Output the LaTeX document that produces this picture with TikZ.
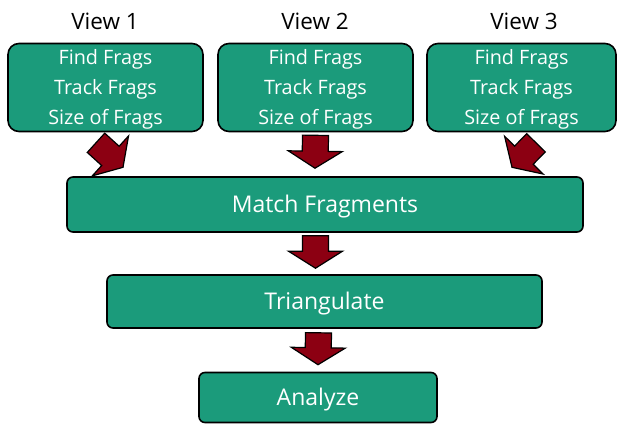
\documentclass[tikz,border=0pt]{standalone}
\usepackage{fontspec}
\setmainfont{Open Sans}
\usetikzlibrary{calc}
\definecolor{boxfill}{RGB}{27,155,123}
\definecolor{arrowred}{RGB}{140,0,18}
\tikzset{
  viewlabel/.style={font=\fontsize{22.5}{26}\selectfont, text=black, inner sep=0pt,
    text height=16.1pt, text depth=0pt},
  % three lines 30pt apart: height spans from the first cap top to the last baseline
  viewbox/.style={draw=black, line width=1.6pt, fill=boxfill, rounded corners=11pt,
    minimum width=195pt, minimum height=88pt, inner sep=0pt, align=center,
    text=white, font=\fontsize{19.8}{30}\selectfont, text height=74.1pt, text depth=0pt},
  stagebox/.style={draw=black, line width=1.6pt, fill=boxfill, rounded corners=6pt,
    inner sep=0pt, text=white, font=\fontsize{23}{27}\selectfont,
    text height=16.4pt, text depth=0pt},
  barrow/.style={draw=black, line width=1.2pt, fill=arrowred, line join=miter}
}
% block arrow from a back centre (#1) to a tip (#2)
\newcommand\blockarrow[2]{%
  \coordinate (hb) at ($(#2)!17pt!(#1)$);
  \draw[barrow]
    ($(#1)!13pt!90:(#2)$) -- ($(hb)!13pt!90:(#2)$) -- ($(hb)!27pt!90:(#2)$)
    -- (#2)
    -- ($(hb)!27pt!-90:(#2)$) -- ($(hb)!13pt!-90:(#2)$) -- ($(#1)!13pt!-90:(#2)$)
    -- cycle;
}
\begin{document}
\begin{tikzpicture}[x=1pt,y=-1pt]
  \useasboundingbox (0,0) rectangle (618,424);

  % view titles
  \node[viewlabel] (t1) at (105,21.3) {View 1};
  \node[viewlabel] (t2) at (315,21.3) {View 2};
  \node[viewlabel] (t3) at (524,21.3) {View 3};

  % per-view processing boxes
  \node[viewbox] (v1) at (105.5,87.5) {Find Frags\\Track Frags\\Size of Frags};
  \node[viewbox] (v2) at (315.5,87.5) {Find Frags\\Track Frags\\Size of Frags};
  \node[viewbox, minimum width=189pt] (v3) at (521.5,87.5) {Find Frags\\Track Frags\\Size of Frags};

  % combined stages
  \node[stagebox, minimum width=516pt, minimum height=55pt] (match) at (325,204.5) {Match Fragments};
  \node[stagebox, minimum width=435pt, minimum height=53pt] (tri) at (324.5,301.5) {Triangulate};
  \node[stagebox, minimum width=238pt, minimum height=50pt] (ana) at (318,397.5) {Analyze};

  % arrow end points
  \coordinate (a1b) at ($(v1.south)+(-9.5,10.5)$);
  \coordinate (a1t) at ($(v1.south)+(17.5,35)$);
  \coordinate (a2b) at ($(v2.south)+(0,3)$);
  \coordinate (a2t) at ($(match.north)+(-10,-8)$);
  \coordinate (a3b) at ($(v3.south)+(14.5,10.5)$);
  \coordinate (a3t) at ($(v3.south)+(-9.5,35)$);
  \coordinate (a4b) at ($(match.south)+(-9.5,3)$);
  \coordinate (a4t) at ($(tri.north)+(-9,-6)$);
  \coordinate (a5b) at ($(tri.south)+(-6,4)$);
  \coordinate (a5t) at ($(ana.north)+(0,-7)$);

  \blockarrow{a1b}{a1t}
  \blockarrow{a2b}{a2t}
  \blockarrow{a3b}{a3t}
  \blockarrow{a4b}{a4t}
  \blockarrow{a5b}{a5t}
\end{tikzpicture}
\end{document}
